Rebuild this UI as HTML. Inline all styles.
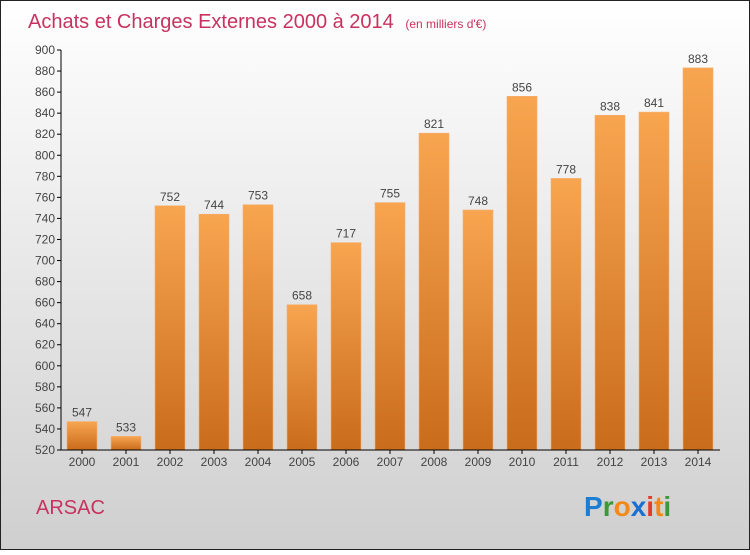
<!DOCTYPE html>
<html><head><meta charset="utf-8"><style>
body{margin:0;width:750px;height:550px;overflow:hidden;font-family:"Liberation Sans",sans-serif}
</style></head><body>
<svg width="750" height="550" xmlns="http://www.w3.org/2000/svg">
<defs>
<linearGradient id="bg" x1="0" y1="0" x2="0" y2="1"><stop offset="0" stop-color="#ffffff"/><stop offset="1" stop-color="#cfcfcf"/></linearGradient>
<linearGradient id="bar" x1="0" y1="0" x2="0" y2="1"><stop offset="0" stop-color="#f8a550"/><stop offset="1" stop-color="#c96c1c"/></linearGradient>
</defs>
<rect x="0.5" y="0.5" width="749" height="549" fill="url(#bg)" stroke="#222"/>
<text x="28" y="28" font-size="20" fill="#c8325e">Achats et Charges Externes 2000 à 2014 <tspan font-size="12" dx="6">(en milliers d'€)</tspan></text>
<g id="yaxis"></g>
<g id="bars"></g>
<g id="xaxis"></g>
<text x="36" y="514" font-size="20" fill="#c8325e">ARSAC</text>
<g font-size="28" font-weight="bold">
<text x="584" y="516"><tspan fill="#1a7fd4">P</tspan><tspan fill="#3a9a3a">r</tspan><tspan fill="#f28a1a">o</tspan><tspan fill="#1a6fd0">x</tspan><tspan fill="#e23b2a">i</tspan><tspan fill="#f28a1a">t</tspan><tspan fill="#3a9a3a">i</tspan></text>
</g>
</svg>
<script>
const years=["2000","2001","2002","2003","2004","2005","2006","2007","2008","2009","2010","2011","2012","2013","2014"];
const values=[547,533,752,744,753,658,717,755,821,748,856,778,838,841,883];
const yTicks=[520,540,560,580,600,620,640,660,680,700,720,740,760,780,800,820,840,860,880,900];
{
const NS="http://www.w3.org/2000/svg";
const yMin=520,yMax=900,plotTop=50,plotBot=450;
function yS(v){return plotBot-(v-yMin)/(yMax-yMin)*(plotBot-plotTop);}
function xS(i){return 82+i*44;}
function mk(t,a,p){const e=document.createElementNS(NS,t);for(const k in a)e.setAttribute(k,a[k]);p.appendChild(e);return e;}
const ya=document.getElementById('yaxis'),ba=document.getElementById('bars'),xa=document.getElementById('xaxis');
mk('line',{x1:61,y1:plotTop,x2:61,y2:plotBot,stroke:'#000'},ya);
yTicks.forEach(v=>{
 mk('line',{x1:57,y1:yS(v),x2:61,y2:yS(v),stroke:'#000'},ya);
 const t=mk('text',{x:55,y:yS(v)+4,'text-anchor':'end','font-size':12,fill:'#444'},ya);t.textContent=v;
 
 
});
mk('line',{x1:61,y1:plotBot,x2:720,y2:plotBot,stroke:'#000'},xa);
years.forEach((yr,i)=>{
 const r=mk('rect',{x:xS(i)-15,y:yS(values[i]),width:30,height:plotBot-yS(values[i]),fill:'url(#bar)',stroke:'#f4b070','stroke-width':0.6},ba);
 
 
 const l=mk('text',{x:xS(i),y:yS(values[i])-5,'text-anchor':'middle','font-size':12,fill:'#444'},ba);l.textContent=values[i];
 
 
 mk('line',{x1:xS(i),y1:plotBot,x2:xS(i),y2:plotBot+4,stroke:'#000'},xa);
 const t=mk('text',{x:xS(i),y:plotBot+16,'text-anchor':'middle','font-size':12,fill:'#444'},xa);t.textContent=yr;
 
 
});
}
</script>
</body></html>
